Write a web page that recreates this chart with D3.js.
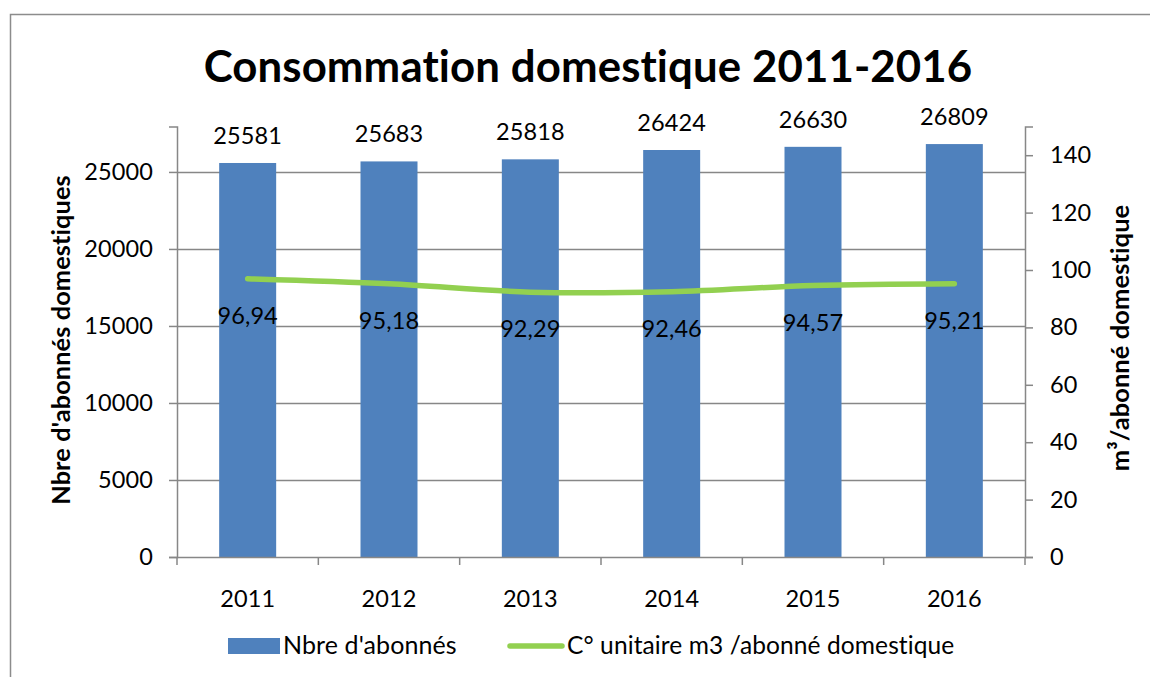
<!DOCTYPE html>
<html><head><meta charset="utf-8">
<script src="https://cdn.jsdelivr.net/npm/d3@7"></script>
<style>
html,body{margin:0;padding:0;background:#fff;}
svg{display:block;font-family:Lato,"Open Sans",sans-serif;}
svg text{font-variant-ligatures:none;font-feature-settings:"liga" 0,"clig" 0,"dlig" 0;letter-spacing:0.1px;}
</style></head>
<body>
<svg id="chart" width="1150" height="677"></svg>
<script>
const years = ["2011","2012","2013","2014","2015","2016"];
const abonnes = [25581, 25683, 25818, 26424, 26630, 26809];
const conso = [96.94, 95.18, 92.29, 92.46, 94.57, 95.21];
const consoLabels = ["96,94","95,18","92,29","92,46","94,57","95,21"];
const leftTicks = [0, 5000, 10000, 15000, 20000, 25000];
const rightTicks = [0, 20, 40, 60, 80, 100, 120, 140];
const title = "Consommation domestique 2011-2016";
const leftTitle = "Nbre d'abonnés domestiques";
const rightTitle = "m³/abonné domestique";
const legendBar = "Nbre d'abonnés";
const legendLine = "C° unitaire m3 /abonné domestique";

const svg = d3.select("#chart");
const m = {left:177, right:1025, top:126.5, bottom:557};
const gridCol = "#878787";
const barCol = "#4F81BD";
const lineCol = "#92D050";
const FS = 23.5;

function fit(sel, target){
  const w = sel.node().getComputedTextLength();
  const fs = parseFloat(sel.attr("font-size"));
  sel.attr("font-size", fs * target / w);
}

// outer frame
svg.append("rect").attr("x",10.5).attr("y",14.5).attr("width",1300).attr("height",800)
  .attr("fill","none").attr("stroke","#8c8c8c").attr("stroke-width",1.5);

const xOuter = d3.scaleBand().domain(years).range([m.left, m.right]).padding(0);
const yL = d3.scaleLinear().domain([0, 27950]).range([m.bottom, m.top]);
const yR = d3.scaleLinear().domain([0, 150]).range([m.bottom, m.top]);

// gridlines
svg.append("g").selectAll("line").data(leftTicks.slice(1)).join("line")
  .attr("x1", m.left).attr("x2", m.right)
  .attr("y1", d=>Math.round(yL(d))+0.5).attr("y2", d=>Math.round(yL(d))+0.5)
  .attr("stroke", gridCol).attr("stroke-width",1.3);

// bars
svg.append("g").selectAll("rect").data(years).join("rect")
  .attr("x", d=>xOuter(d) + xOuter.bandwidth()/2 - 28.5)
  .attr("width", 57)
  .attr("y", (d,i)=>yL(abonnes[i]))
  .attr("height", (d,i)=>yL(0)-yL(abonnes[i]))
  .attr("fill", barCol);

// axes
const axL = svg.append("g").attr("transform",`translate(${m.left},0)`)
  .call(d3.axisLeft(yL).tickValues(leftTicks).tickSize(8).tickPadding(16).tickFormat(d3.format("d")));
const axR = svg.append("g").attr("transform",`translate(${m.right},0)`)
  .call(d3.axisRight(yR).tickValues(rightTicks).tickSize(8).tickPadding(17).tickFormat(d3.format("d")));
const axB = svg.append("g").attr("transform",`translate(0,${m.bottom})`)
  .call(d3.axisBottom(xOuter).tickSize(0).tickPadding(33));
svg.append("g").selectAll("line").data(d3.range(years.length+1)).join("line")
  .attr("x1", i=> m.left + i*xOuter.step()).attr("x2", i=> m.left + i*xOuter.step())
  .attr("y1", m.bottom).attr("y2", m.bottom+8)
  .attr("stroke", gridCol).attr("stroke-width",1.5);

[axL, axR, axB].forEach(a=>{
  a.select(".domain").attr("stroke", gridCol).attr("stroke-width",1.5);
  a.selectAll(".tick line").attr("stroke", gridCol).attr("stroke-width",1.5);
  a.selectAll("text").attr("font-size",FS).attr("fill","#000").attr("font-family","Lato");
});
axB.select(".domain").attr("d", `M${m.left},0.5H${m.right}`);

// line
const line = d3.line().x((d,i)=>xOuter(years[i]) + xOuter.bandwidth()/2).y(d=>yR(d)).curve(d3.curveCatmullRom.alpha(0.5));
svg.append("path").datum(conso).attr("d", line).attr("fill","none")
  .attr("stroke", lineCol).attr("stroke-width",5.5).attr("stroke-linecap","round").attr("stroke-linejoin","round");

// bar labels
svg.append("g").selectAll("text").data(years).join("text")
  .attr("x", d=>xOuter(d)+xOuter.bandwidth()/2).attr("y",(d,i)=>yL(abonnes[i]) - 19)
  .attr("text-anchor","middle").attr("font-size",FS).text((d,i)=>abonnes[i]);

// line labels
svg.append("g").selectAll("text").data(years).join("text")
  .attr("x", d=>xOuter(d)+xOuter.bandwidth()/2).attr("y",(d,i)=>yR(conso[i]) + 45)
  .attr("text-anchor","middle").attr("font-size",FS).text((d,i)=>consoLabels[i]);

// title
const t = svg.append("text").attr("x",588).attr("y",82).attr("text-anchor","middle")
  .attr("font-weight","bold").attr("font-size",44).text(title);
fit(t, 769);

// axis titles
const lt = svg.append("text").attr("transform","translate(70,340) rotate(-90)").attr("text-anchor","middle")
  .attr("font-weight","bold").attr("font-size",22).text(leftTitle);
fit(lt, 330);
const rt = svg.append("text").attr("transform","translate(1129,338) rotate(-90)").attr("text-anchor","middle")
  .attr("font-weight","bold").attr("font-size",22).text(rightTitle);
fit(rt, 267);

// legend
svg.append("rect").attr("x",228).attr("y",638).attr("width",52).attr("height",16).attr("fill",barCol);
const l1 = svg.append("text").attr("x",283).attr("y",654).attr("font-size",22).text(legendBar);
fit(l1, 174);
svg.append("line").attr("x1",510).attr("x2",562).attr("y1",646).attr("y2",646)
  .attr("stroke",lineCol).attr("stroke-width",5.5).attr("stroke-linecap","round");
const l2 = svg.append("text").attr("x",567).attr("y",654).attr("font-size",22).text(legendLine);
fit(l2, 388);
</script>
</body></html>
